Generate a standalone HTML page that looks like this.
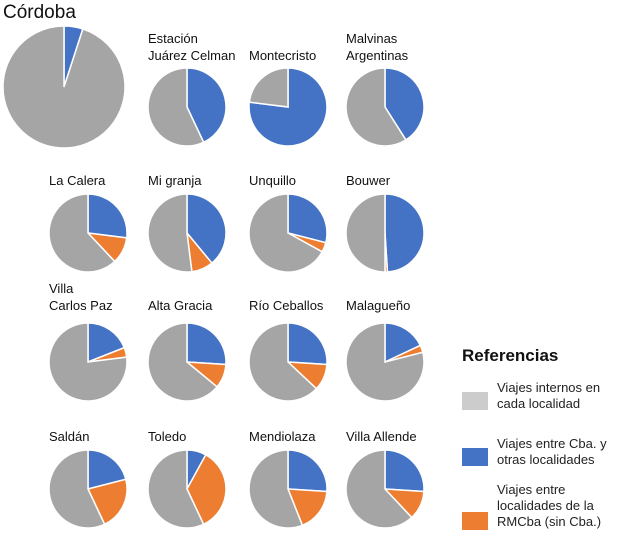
<!DOCTYPE html>
<html><head><meta charset="utf-8"><style>
body{margin:0;background:#fff;}
svg{display:block;font-family:"Liberation Sans",Arial,sans-serif;}
</style></head><body>
<svg id="c" width="624" height="534">
<text x="3" y="18" font-size="19" fill="#111">Córdoba</text>
<g>
<text x="462" y="361" font-size="17" font-weight="bold" fill="#111">Referencias</text>
<rect x="462" y="392" width="26" height="18" fill="#cccccc"/>
<text x="497" y="392" font-size="13" fill="#222"><tspan x="497">Viajes internos en</tspan><tspan x="497" dy="16">cada localidad</tspan></text>
<rect x="462" y="448" width="26" height="18" fill="#4472c4"/>
<text x="497" y="448" font-size="13" fill="#222"><tspan x="497">Viajes entre Cba. y</tspan><tspan x="497" dy="16">otras localidades</tspan></text>
<rect x="462" y="512" width="26" height="18" fill="#ed7d31"/>
<text x="497" y="494" font-size="13" fill="#222"><tspan x="497">Viajes entre</tspan><tspan x="497" dy="16">localidades de la</tspan><tspan x="497" dy="16">RMCba (sin Cba.)</tspan></text>
</g>
</svg>
<script>
const names=["Córdoba","Estación|Juárez Celman","Montecristo","Malvinas|Argentinas","La Calera","Mi granja","Unquillo","Bouwer","Villa|Carlos Paz","Alta Gracia","Río Ceballos","Malagueño","Saldán","Toledo","Mendiolaza","Villa Allende"];
const blueVals=[5,43,77,41,27,39,29,49,19,26,26,18,21,8,26,26];
const orangeVals=[0,0,0,0,11,9,4,1,4,10,11,3,22,35,18,12];
const grayVals=blueVals.map((b,i)=>100-b-orangeVals[i]);
const NS="http://www.w3.org/2000/svg";
const svg=document.getElementById('c');
const colX=[88,187,288,385], rowY=[107,233,362,489], labelY=[60,185,310,441];
function slice(g,cx,cy,r,a0,a1,col){
  if(a1-a0<=0)return;
  let p;
  if(a1-a0>=100){p=document.createElementNS(NS,'circle');p.setAttribute('cx',cx);p.setAttribute('cy',cy);p.setAttribute('r',r);}
  else{
  const t0=a0/100*2*Math.PI,t1=a1/100*2*Math.PI;
  const x0=cx+r*Math.sin(t0),y0=cy-r*Math.cos(t0),x1=cx+r*Math.sin(t1),y1=cy-r*Math.cos(t1);
  p=document.createElementNS(NS,'path');
  p.setAttribute('d',`M${cx},${cy}L${x0},${y0}A${r},${r} 0 ${a1-a0>50?1:0} 1 ${x1},${y1}Z`);}
  p.setAttribute('fill',col);p.setAttribute('stroke','#fff');p.setAttribute('stroke-width','1.5');
  
  
  g.appendChild(p);
}
names.forEach((n,i)=>{
  const g=document.createElementNS(NS,'g');
  
  
  let cx,cy,r;
  if(i===0){cx=64;cy=87;r=61;}
  else{const row=Math.floor(i/4),col=i%4;cx=colX[col];cy=rowY[row];r=39;
    const parts=n.split('|');const t=document.createElementNS(NS,'text');
    t.setAttribute('font-size','13');t.setAttribute('fill','#111');
    
    
    const ly=labelY[row]-(parts.length-1)*17;
    parts.forEach((s,j)=>{const ts=document.createElementNS(NS,'tspan');ts.setAttribute('x',cx-39);ts.setAttribute('y',ly+j*17);ts.textContent=s;t.appendChild(ts);});
    g.appendChild(t);}
  const b=blueVals[i],o=orangeVals[i],gr=grayVals[i];
  slice(g,cx,cy,r,0,b,'#4472c4');
  slice(g,cx,cy,r,b,b+o,'#ed7d31');
  slice(g,cx,cy,r,b+o,b+o+gr,'#a5a5a5');
  svg.appendChild(g);
});
</script>
</body></html>
